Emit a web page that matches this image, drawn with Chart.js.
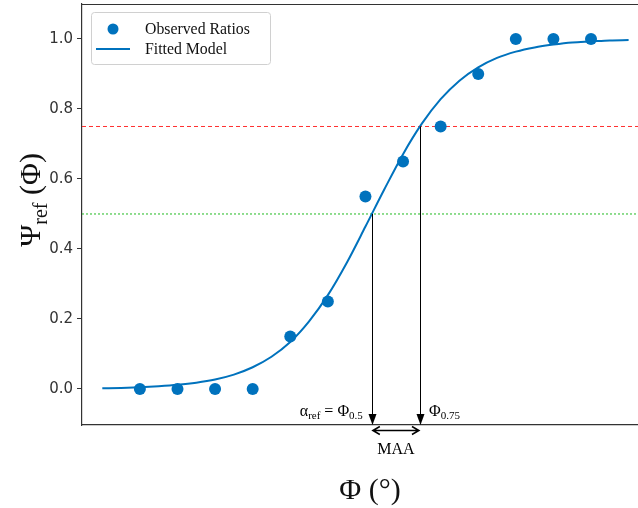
<!DOCTYPE html>
<html>
<head>
<meta charset="utf-8">
<script src="https://cdn.jsdelivr.net/npm/chart.js@4.4.0/dist/chart.umd.min.js"></script>
<style>
  html, body { margin: 0; padding: 0; background: #fff; }
  #wrap { width: 638px; height: 508px; position: relative; }
</style>
</head>
<body>
<div id="wrap"><canvas id="chart"></canvas></div>
<script>
// observed ratios (x = stimulus index read from point spacing)
const obsX = [0, 1, 2, 3, 4, 5, 6, 7, 8, 9, 10, 11, 12];
const obsY = [0, 0, 0, 0, 0.15, 0.25, 0.55, 0.65, 0.75, 0.9, 1.0, 1.0, 1.0];

// fitted model
const fitX = [-1, -0.5, 0, 0.5, 1, 1.5, 2, 2.5, 3, 3.5, 4, 4.5, 5, 5.5, 6, 6.5, 7, 7.5, 8, 8.5, 9, 9.5, 10, 10.5, 11, 11.5, 12, 12.5, 13];
const fitY = [0.002, 0.003, 0.005, 0.008, 0.012, 0.018, 0.027, 0.041, 0.062, 0.092, 0.134, 0.193, 0.268, 0.36, 0.464, 0.57, 0.671, 0.758, 0.828, 0.881, 0.919, 0.946, 0.964, 0.976, 0.984, 0.99, 0.993, 0.996, 0.997];

const yTicks = [0, 0.2, 0.4, 0.6, 0.8, 1.0];
const refLevels = [0.75, 0.5];
const phi50 = 6.17;
const phi75 = 7.45;

const xMin = -1.54, xMax = 13.25;
const blue = '#0072bd';
const serif = '"Liberation Serif", "Times New Roman", serif';

function arrowDown(ctx, x, y) {
    ctx.beginPath();
    ctx.moveTo(x, y);
    ctx.lineTo(x - 4, y - 11);
    ctx.lineTo(x + 4, y - 11);
    ctx.closePath();
    ctx.fill();
}

const annotate = {
    id: 'annotate',
    afterDatasetsDraw(chart) {
        const ctx = chart.ctx;
        const xs = chart.scales.x, ys = chart.scales.y;
        const area = chart.chartArea;
        ctx.save();

        // frame top
        ctx.strokeStyle = '#333';
        ctx.lineWidth = 1.2;
        ctx.beginPath();
        ctx.moveTo(area.left, area.top + 0.5);
        ctx.lineTo(area.right, area.top + 0.5);
        ctx.stroke();

        // vertical arrows
        ctx.strokeStyle = '#000';
        ctx.fillStyle = '#000';
        ctx.lineWidth = 1;
        [[phi50, 0.5], [phi75, 0.75]].forEach(([v, lvl]) => {
            const px = Math.round(xs.getPixelForValue(v)) + 0.5;
            const top = ys.getPixelForValue(lvl);
            ctx.beginPath();
            ctx.moveTo(px, top);
            ctx.lineTo(px, area.bottom - 8);
            ctx.stroke();
            arrowDown(ctx, px, area.bottom);
        });

        // MAA double arrow
        const a = xs.getPixelForValue(phi50), b = xs.getPixelForValue(phi75);
        const ay = area.bottom + 5.5;
        ctx.lineWidth = 1.5;
        ctx.beginPath();
        ctx.moveTo(a + 1, ay); ctx.lineTo(b - 1, ay);
        ctx.moveTo(a + 8, ay - 4); ctx.lineTo(a + 1, ay); ctx.lineTo(a + 8, ay + 4);
        ctx.moveTo(b - 8, ay - 4); ctx.lineTo(b - 1, ay); ctx.lineTo(b - 8, ay + 4);
        ctx.stroke();

        ctx.fillStyle = '#000';
        ctx.textBaseline = 'alphabetic';
        ctx.font = '16px ' + serif;
        ctx.textAlign = 'center';
        ctx.fillText('MAA', (a + b) / 2, area.bottom + 29);

        // labels near arrows
        const base = area.bottom - 9;
        const big = '16px ' + serif, small = '11px ' + serif;
        const parts = [['α', big, 0], ['ref', small, 3], [' = Φ', big, 0], ['0.5', small, 3]];
        let w = 0;
        parts.forEach(p => { ctx.font = p[1]; w += ctx.measureText(p[0]).width; });
        let cx = a - 9 - w;
        ctx.textAlign = 'left';
        parts.forEach(p => { ctx.font = p[1]; ctx.fillText(p[0], cx, base + p[2]); cx += ctx.measureText(p[0]).width; });
        cx = b + 9;
        [['Φ', big, 0], ['0.75', small, 3]].forEach(p => { ctx.font = p[1]; ctx.fillText(p[0], cx, base + p[2]); cx += ctx.measureText(p[0]).width; });

        // legend box
        ctx.fillStyle = 'rgba(255,255,255,0.85)';
        ctx.strokeStyle = '#d0d0d0';
        ctx.lineWidth = 1;
        ctx.beginPath();
        ctx.roundRect(91.5, 12.5, 179, 52, 3);
        ctx.fill();
        ctx.stroke();
        ctx.fillStyle = blue;
        ctx.beginPath();
        ctx.arc(113, 29, 5.5, 0, Math.PI * 2);
        ctx.fill();
        ctx.strokeStyle = blue;
        ctx.lineWidth = 2;
        ctx.beginPath();
        ctx.moveTo(96, 49); ctx.lineTo(130, 49);
        ctx.stroke();
        ctx.fillStyle = '#111';
        ctx.font = '15.8px ' + serif;
        ctx.fillText('Observed Ratios', 145, 34);
        ctx.fillText('Fitted Model', 145, 54);

        // axis titles
        ctx.font = '30px ' + serif;
        ctx.textAlign = 'center';
        ctx.fillText('Φ (°)', 370, 499);

        ctx.save();
        ctx.translate(40, 200);
        ctx.rotate(-Math.PI / 2);
        const yparts = [['Ψ', '30px ' + serif, 0], ['ref', '20px ' + serif, 7], [' (Φ)', '30px ' + serif, 0]];
        let tw = 0;
        yparts.forEach(p => { ctx.font = p[1]; tw += ctx.measureText(p[0]).width; });
        let tx = -tw / 2;
        ctx.textAlign = 'left';
        yparts.forEach(p => { ctx.font = p[1]; ctx.fillText(p[0], tx, p[2]); tx += ctx.measureText(p[0]).width; });
        ctx.restore();

        ctx.restore();
    }
};

new Chart(document.getElementById('chart'), {
    type: 'scatter',
    data: {
        datasets: [
            {
                label: 'ref 0.75',
                type: 'line',
                data: [{ x: xMin, y: refLevels[0] }, { x: xMax, y: refLevels[0] }],
                borderColor: '#ff3030',
                borderWidth: 1,
                borderDash: [4, 3],
                pointRadius: 0,
                order: 3
            },
            {
                label: 'ref 0.5',
                type: 'line',
                data: [{ x: xMin, y: refLevels[1] }, { x: xMax, y: refLevels[1] }],
                borderColor: '#22bb22',
                borderWidth: 1,
                borderDash: [2, 2],
                pointRadius: 0,
                order: 3
            },
            {
                label: 'Fitted Model',
                type: 'line',
                data: fitX.map((x, i) => ({ x, y: fitY[i] })),
                borderColor: blue,
                borderWidth: 2,
                pointRadius: 0,
                cubicInterpolationMode: 'monotone',
                order: 2
            },
            {
                label: 'Observed Ratios',
                data: obsX.map((x, i) => ({ x, y: obsY[i] })),
                backgroundColor: blue,
                borderWidth: 0,
                pointRadius: 6,
                order: 1
            }
        ]
    },
    options: {
        responsive: true,
        maintainAspectRatio: false,
        animation: false,
        layout: { autoPadding: false, padding: { top: 4, right: 0, bottom: 83, left: 0 } },
        plugins: {
            legend: { display: false },
            tooltip: { enabled: false }
        },
        scales: {
            x: {
                type: 'linear',
                min: xMin,
                max: xMax,
                grid: { display: false, drawTicks: false },
                border: { display: true, color: '#333', width: 1.2 },
                ticks: { display: false },
                afterFit(s) { s.height = 0; s.paddingLeft = 0; s.paddingRight = 0; }
            },
            y: {
                min: -0.103,
                max: 1.1,
                grid: { display: true, drawOnChartArea: false, drawTicks: true, tickLength: 5, color: '#333' },
                border: { display: true, color: '#333', width: 1.2 },
                afterBuildTicks(s) { s.ticks = yTicks.map(v => ({ value: v })); },
                afterFit(s) { s.width = 82; s.paddingTop = 0; s.paddingBottom = 0; },
                ticks: {
                    color: '#333',
                    font: { family: '"DejaVu Sans", sans-serif', size: 15 },
                    padding: 4,
                    callback: v => v.toFixed(1)
                }
            }
        }
    },
    plugins: [annotate]
});
</script>
</body>
</html>
